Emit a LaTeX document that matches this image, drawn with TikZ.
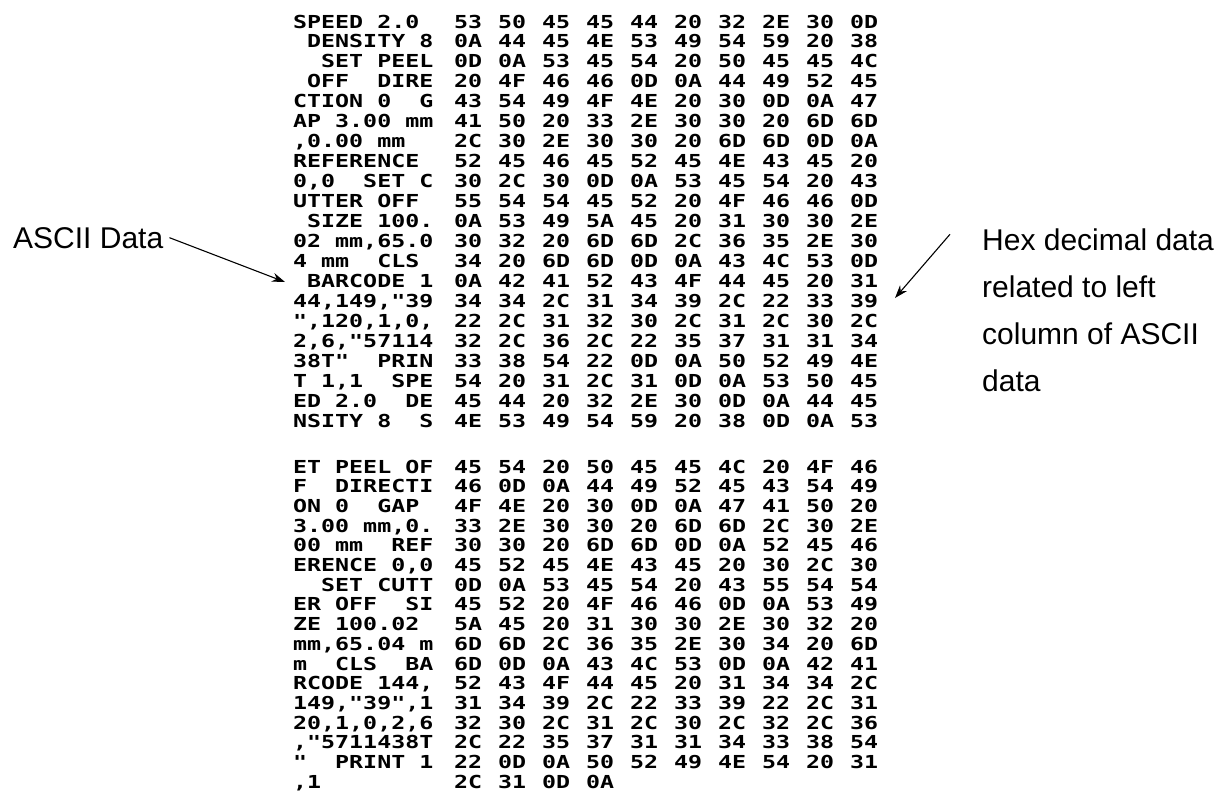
\documentclass[tikz,border=0pt]{standalone}
\usepackage{fontspec}
\setmainfont{Liberation Sans}
\newfontfamily\dumpfont{DejaVu Sans Mono Bold}[FakeStretch=1.3]
\usetikzlibrary{arrows.meta}
\begin{document}
\begin{tikzpicture}[x=1pt,y=-1pt,
  asc/.style={anchor=base west,inner sep=0pt,font=\dumpfont\fontsize{17.9}{18}\selectfont},
  hx/.style={anchor=base west,inner sep=0pt,font=\dumpfont\fontsize{17.9}{18}\selectfont},
  lbl/.style={anchor=base west,inner sep=0pt,font=\fontsize{30}{36}\selectfont},
  pointer/.style={line width=1.1pt,-{Stealth[length=13pt,width=9pt]}}]
\useasboundingbox[fill=white] (0,0) rectangle (1224,793);
% block 1 ASCII
\foreach \s [count=\i from 0] in {{SPEED~2.0~},{~DENSITY~8},{~~SET~PEEL},{~OFF~~DIRE},{CTION~0~~G},{AP~3.00~mm},{,0.00~mm~~},{REFERENCE~},{0,0~~SET~C},{UTTER~OFF~},{~SIZE~100.},{02~mm,65.0},{4~mm~~CLS~},{~BARCODE~1},{44,149,"39},{",120,1,0,},{2,6,"57114},{38T"~~PRIN},{T~1,1~~SPE},{ED~2.0~~DE},{NSITY~8~~S}}
  \node[asc] (a\i) at (293,{28+19.95*\i}) {\s};
% block 1 hex
\foreach \r [count=\i from 0] in {{53,50,45,45,44,20,32,2E,30,0D},{0A,44,45,4E,53,49,54,59,20,38},{0D,0A,53,45,54,20,50,45,45,4C},{20,4F,46,46,0D,0A,44,49,52,45},{43,54,49,4F,4E,20,30,0D,0A,47},{41,50,20,33,2E,30,30,20,6D,6D},{2C,30,2E,30,30,20,6D,6D,0D,0A},{52,45,46,45,52,45,4E,43,45,20},{30,2C,30,0D,0A,53,45,54,20,43},{55,54,54,45,52,20,4F,46,46,0D},{0A,53,49,5A,45,20,31,30,30,2E},{30,32,20,6D,6D,2C,36,35,2E,30},{34,20,6D,6D,0D,0A,43,4C,53,0D},{0A,42,41,52,43,4F,44,45,20,31},{34,34,2C,31,34,39,2C,22,33,39},{22,2C,31,32,30,2C,31,2C,30,2C},{32,2C,36,2C,22,35,37,31,31,34},{33,38,54,22,0D,0A,50,52,49,4E},{54,20,31,2C,31,0D,0A,53,50,45},{45,44,20,32,2E,30,0D,0A,44,45},{4E,53,49,54,59,20,38,0D,0A,53}}
  {\foreach \h [count=\j from 0] in \r
    \node[hx] (h\i-\j) at ({454+44*\j},{28+19.95*\i}) {\h};}
% block 2 ASCII
\foreach \s [count=\i from 0] in {{ET~PEEL~OF},{F~~DIRECTI},{ON~0~~GAP~},{3.00~mm,0.},{00~mm~~REF},{ERENCE~0,0},{~~SET~CUTT},{ER~OFF~~SI},{ZE~100.02~},{mm,65.04~m},{m~~CLS~~BA},{RCODE~144,},{149,"39",1},{20,1,0,2,6},{,"5711438T},{"~~PRINT~1},{,1}}
  \node[asc] (c\i) at (293,{473+19.7*\i}) {\s};
% block 2 hex
\foreach \r [count=\i from 0] in {{45,54,20,50,45,45,4C,20,4F,46},{46,0D,0A,44,49,52,45,43,54,49},{4F,4E,20,30,0D,0A,47,41,50,20},{33,2E,30,30,20,6D,6D,2C,30,2E},{30,30,20,6D,6D,0D,0A,52,45,46},{45,52,45,4E,43,45,20,30,2C,30},{0D,0A,53,45,54,20,43,55,54,54},{45,52,20,4F,46,46,0D,0A,53,49},{5A,45,20,31,30,30,2E,30,32,20},{6D,6D,2C,36,35,2E,30,34,20,6D},{6D,0D,0A,43,4C,53,0D,0A,42,41},{52,43,4F,44,45,20,31,34,34,2C},{31,34,39,2C,22,33,39,22,2C,31},{32,30,2C,31,2C,30,2C,32,2C,36},{2C,22,35,37,31,31,34,33,38,54},{22,0D,0A,50,52,49,4E,54,20,31},{2C,31,0D,0A}}
  {\foreach \h [count=\j from 0] in \r
    \node[hx] (k\i-\j) at ({454+44*\j},{473+19.7*\i}) {\h};}
% labels
\node[lbl] (asciilbl) at (13,248) {ASCII Data};
\node[lbl] (hex1) at (982,250) {Hex decimal data};
\node[lbl] (hex2) at (982,297) {related to left};
\node[lbl] (hex3) at (982,344) {column of ASCII};
\node[lbl] (hex4) at (982,391) {data};
\coordinate (la) at (285,282);
\coordinate (ra) at (895,298);
\draw[pointer] ([xshift=6pt]asciilbl.east) -- (la);
\draw[pointer] ([xshift=-32pt,yshift=5pt]hex1.west) -- (ra);
\end{tikzpicture}
\end{document}
